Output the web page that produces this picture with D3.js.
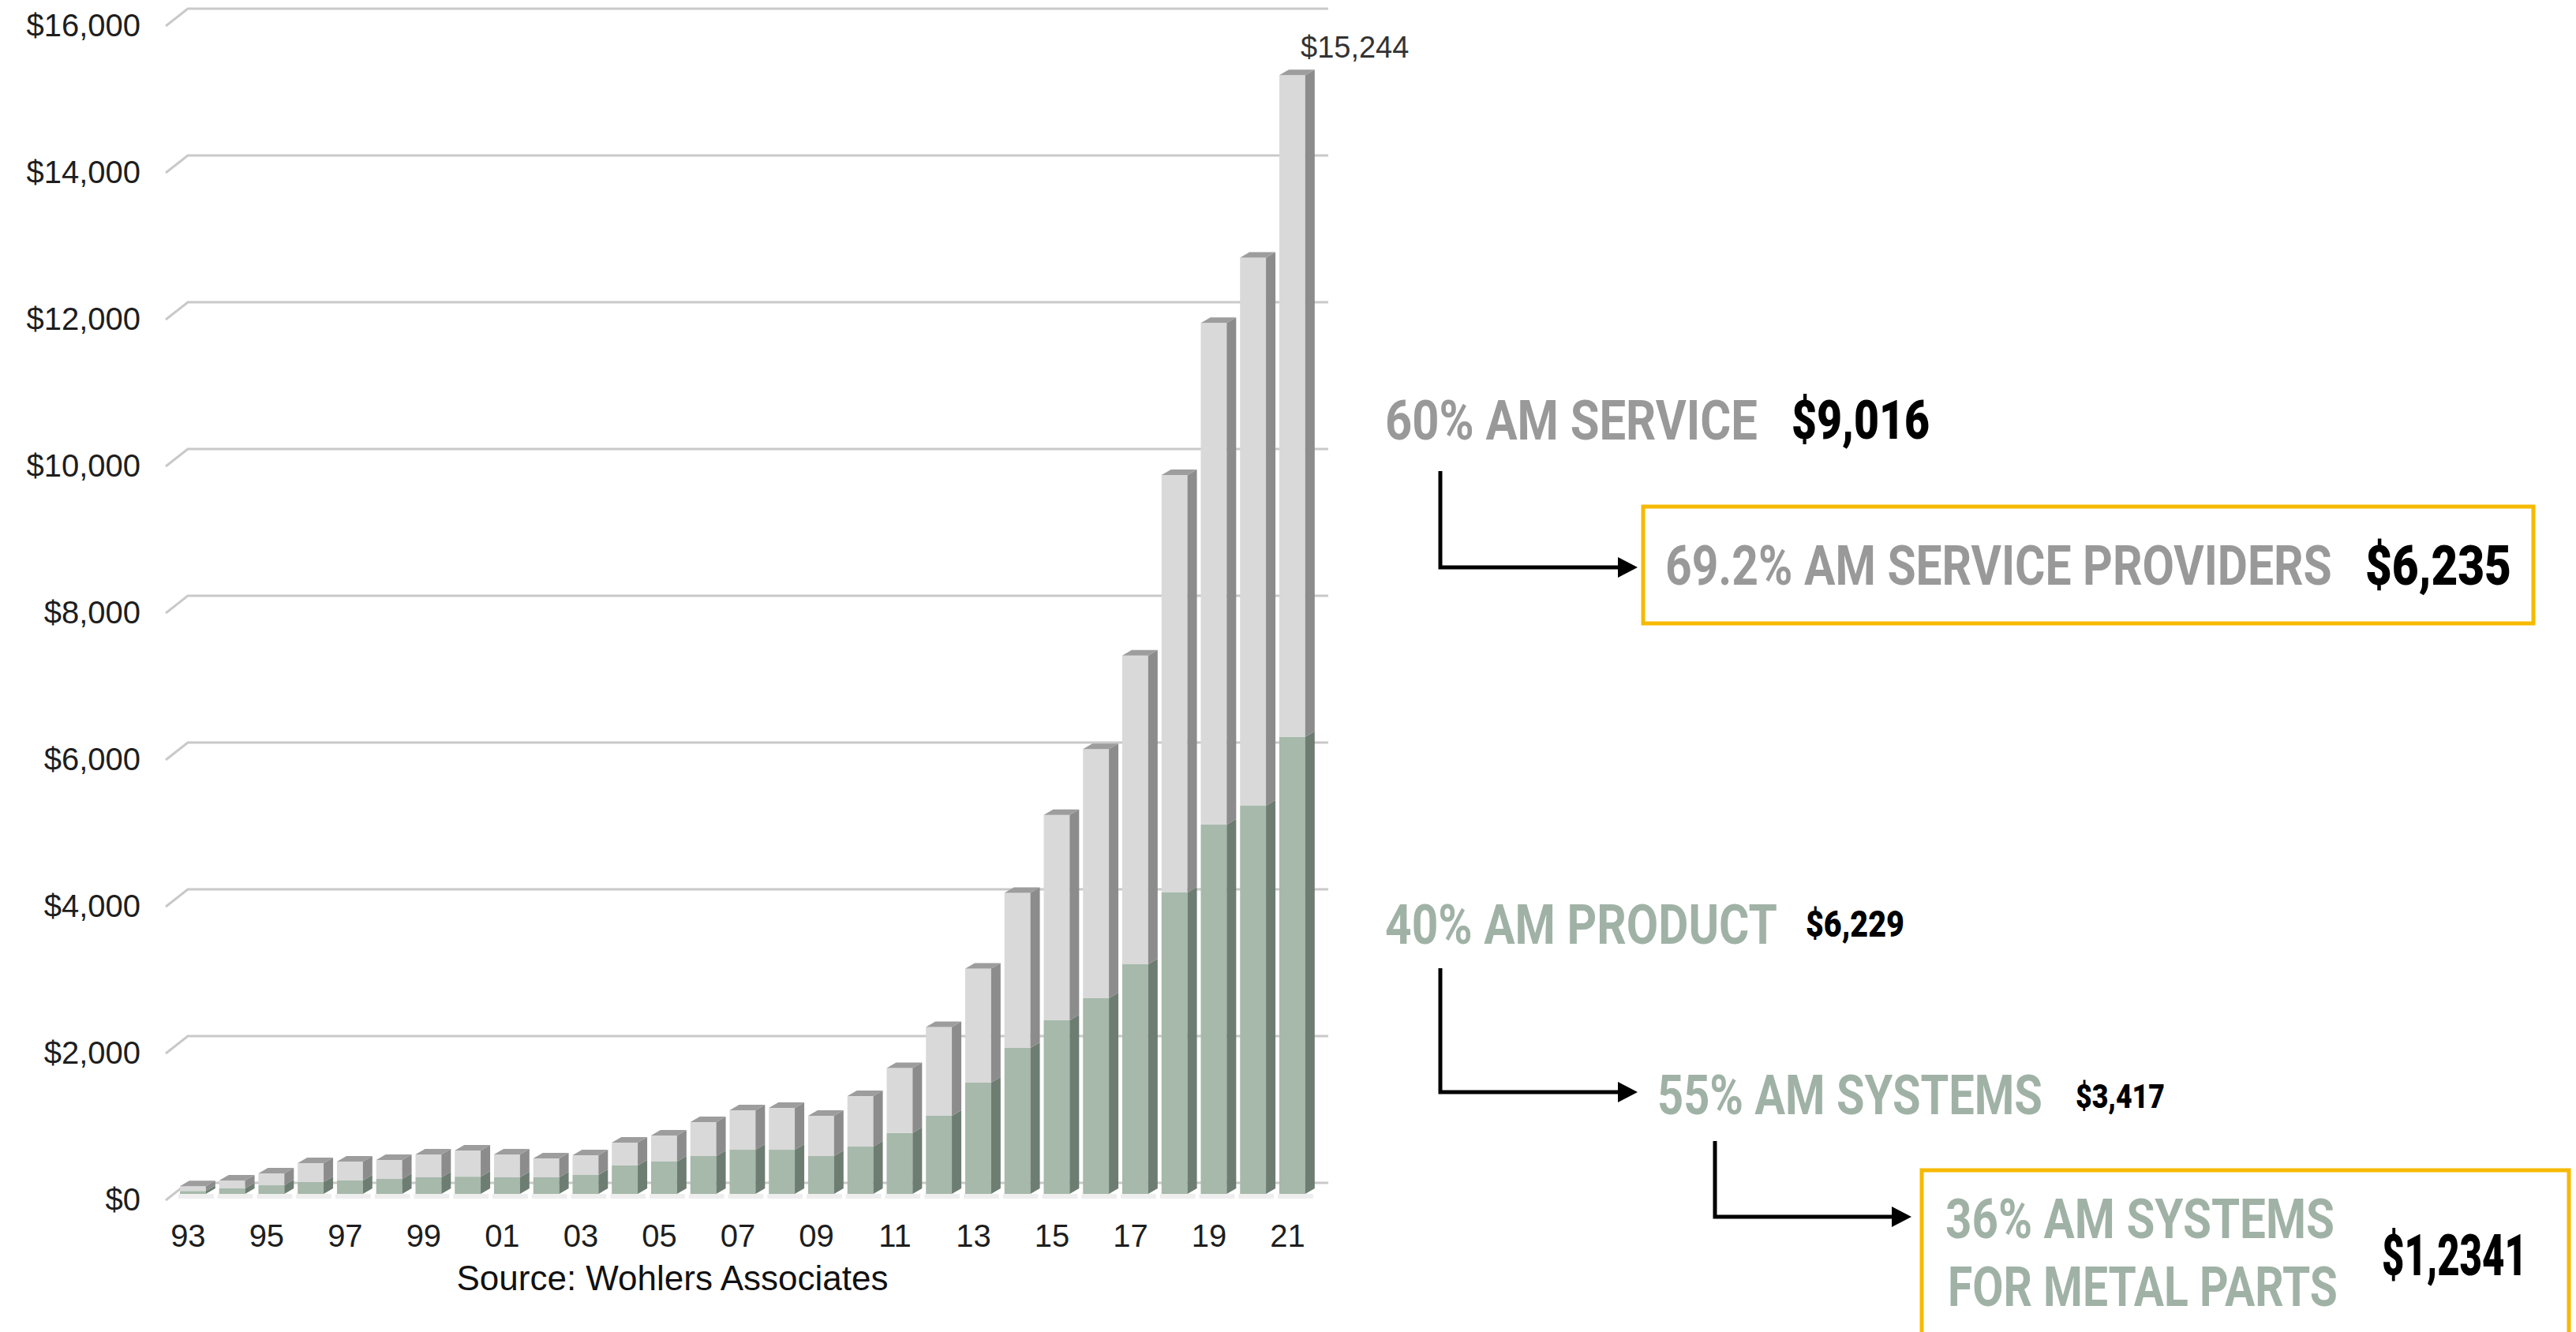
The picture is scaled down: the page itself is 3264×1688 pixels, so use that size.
<!DOCTYPE html>
<html>
<head>
<meta charset="utf-8">
<script src="https://cdn.jsdelivr.net/npm/d3@7"></script>
<style>
  html, body { margin: 0; padding: 0; background: #ffffff; }
  svg { display: block; }
</style>
</head>
<body>
<svg id="chart" width="3264" height="1688"></svg>
<script>
// Additive manufacturing revenue, $ millions, by year (Wohlers Associates)
const years = ["1993","1994","1995","1996","1997","1998","1999","2000","2001","2002",
               "2003","2004","2005","2006","2007","2008","2009","2010","2011","2012",
               "2013","2014","2015","2016","2017","2018","2019","2020","2021"];
// AM products (lower, green segment)
const productSales = [40, 75, 118, 161, 183, 204, 226, 235, 226, 226,
                      258, 387, 441, 516, 602, 602, 516, 645, 830, 1065,
                      1516, 1989, 2366, 2667, 3129, 4108, 5032, 5290, 6229];
// AM services (upper, grey segment)
const serviceSales = [65, 108, 162, 258, 258, 258, 312, 356, 312, 258,
                      269, 312, 355, 462, 538, 570, 549, 688, 884, 1210,
                      1554, 2114, 2799, 3396, 4207, 5687, 6835, 7468, 9015];
const yTicks = [0, 2000, 4000, 6000, 8000, 10000, 12000, 14000, 16000];
const xTickYears = ["1993","1995","1997","1999","2001","2003","2005","2007","2009",
                    "2011","2013","2015","2017","2019","2021"];
const xTickLabels = ["93","95","97","99","01","03","05","07","09","11","13","15","17","19","21"];
const sourceNote = "Source: Wohlers Associates";

// Breakdown callouts
const serviceHead = { label: "60% AM SERVICE", value: "$9,016" };
const serviceSub = { label: "69.2% AM SERVICE PROVIDERS", value: "$6,235" };
const productHead = { label: "40% AM PRODUCT", value: "$6,229" };
const productSub = { label: "55% AM SYSTEMS", value: "$3,417" };
const metalSub = { lines: ["36% AM SYSTEMS", "FOR METAL PARTS"], value: "$1,2341" };

const svg = d3.select("#chart");
const fmt = d3.format("$,");

// ---- scales ----
const y = d3.scaleLinear().domain([0, 16000]).range([1499, 11]);
const x = d3.scaleBand().domain(years).range([219.5, 1662.3])
  .paddingInner(0.34).paddingOuter(0.17);

// pseudo-3D geometry: back wall vs. bar front plane
const FRONT_DY = 14;       // bar fronts sit lower than the back wall
const DX = 12, DY = 7;     // bar depth
const WALL_DX = 28, WALL_DY = 22; // floor depth at left edge
const gridLeft = 238, gridRight = 1683;

// ---- gridlines on the back wall ----
const grid = svg.append("g");
yTicks.forEach(v => {
  const gy = y(v);
  grid.append("path")
    .attr("d", `M${gridLeft - WALL_DX},${gy + WALL_DY} L${gridLeft},${gy} L${gridRight},${gy}`)
    .attr("fill", "none")
    .attr("stroke", "#c9c9c9")
    .attr("stroke-width", 3);
});

// y-axis labels
svg.append("g").selectAll("text").data(yTicks).join("text")
  .attr("x", 178)
  .attr("y", d => y(d) + 35)
  .attr("text-anchor", "end")
  .attr("font-family", "'Liberation Sans', Arial, Helvetica, sans-serif")
  .attr("font-size", 40)
  .attr("fill", "#1e1e1e")
  .text(d => fmt(d));

// ---- stacked 3D columns ----
const rows = years.map((yr, i) => ({
  year: yr,
  product: productSales[i],
  service: serviceSales[i],
  total: productSales[i] + serviceSales[i]
}));

const yF = v => y(v) + FRONT_DY;
const bw = x.bandwidth();

const bars = svg.append("g").selectAll("g").data(rows).join("g");

// segment helper: front face + side face for a value range
function segment(g, x0, v0, v1, front, side) {
  const yb = yF(v0), yt = yF(v1);
  g.append("rect")
    .attr("x", x0).attr("y", yt)
    .attr("width", bw).attr("height", Math.max(0, yb - yt))
    .attr("fill", front);
  g.append("path")
    .attr("d", `M${x0 + bw},${yb} L${x0 + bw},${yt} L${x0 + bw + DX},${yt - DY} L${x0 + bw + DX},${yb - DY} Z`)
    .attr("fill", side);
}

bars.each(function (d) {
  const g = d3.select(this);
  const x0 = x(d.year);
  // soft floor shadow
  g.append("rect")
    .attr("x", x0 - 2).attr("y", yF(0))
    .attr("width", bw + DX).attr("height", 6)
    .attr("fill", "#eeeeee");
  segment(g, x0, 0, d.product, "#a6b9ab", "#6d7d72");
  segment(g, x0, d.product, d.total, "#d9d9d9", "#8c8c8c");
  const yt = yF(d.total);
  g.append("path")
    .attr("d", `M${x0},${yt} L${x0 + DX},${yt - DY} L${x0 + bw + DX},${yt - DY} L${x0 + bw},${yt} Z`)
    .attr("fill", "#9d9d9d");
});

// value label on the latest column
const last = rows[rows.length - 1];
svg.append("text")
  .attr("x", x(last.year) + 27)
  .attr("y", yF(last.total) - 22)
  .attr("font-family", "'Liberation Sans', Arial, Helvetica, sans-serif")
  .attr("font-size", 38)
  .attr("fill", "#333333")
  .text(fmt(last.total));

// x-axis labels
svg.append("g").selectAll("text").data(xTickYears).join("text")
  .attr("x", d => x(d) + bw / 2 - 6)
  .attr("y", 1580)
  .attr("text-anchor", "middle")
  .attr("font-family", "'Liberation Sans', Arial, Helvetica, sans-serif")
  .attr("font-size", 40)
  .attr("fill", "#1e1e1e")
  .text((d, i) => xTickLabels[i]);

svg.append("text")
  .attr("x", 852).attr("y", 1635)
  .attr("text-anchor", "middle")
  .attr("font-family", "'Liberation Sans', Arial, Helvetica, sans-serif")
  .attr("font-size", 44)
  .attr("fill", "#111111")
  .text(sourceNote);

// ---- breakdown callouts ----
const GREY = "#999999", SAGE = "#a0b2a6", GOLD = "#f6b900";
const callFont = "Roboto, 'Noto Sans', sans-serif";

// condensed headline text: squeeze horizontally to the wanted width
function callText(txt, x0, width, base, size, color, weight) {
  const t = svg.append("text")
    .attr("font-family", callFont)
    .attr("font-size", size)
    .attr("font-weight", weight)
    .attr("fill", color)
    .text(txt);
  const natural = t.node().getComputedTextLength() || width;
  t.attr("transform", `translate(${x0},${base}) scale(${width / natural},1)`);
}

function elbow(xv, yTop, yH, xTip) {
  svg.append("path")
    .attr("d", `M${xv},${yTop} L${xv},${yH} L${xTip - 22},${yH}`)
    .attr("fill", "none")
    .attr("stroke", "#000")
    .attr("stroke-width", 5)
    .attr("stroke-linejoin", "miter");
  svg.append("path")
    .attr("d", `M${xTip - 25},${yH - 13} L${xTip},${yH} L${xTip - 25},${yH + 13} Z`)
    .attr("fill", "#000");
}

function box(x0, y0, x1, y1) {
  svg.append("rect")
    .attr("x", x0).attr("y", y0)
    .attr("width", x1 - x0).attr("height", y1 - y0)
    .attr("fill", "none")
    .attr("stroke", GOLD)
    .attr("stroke-width", 5);
}

// services branch
callText(serviceHead.label, 1755, 472, 557, 70, GREY, 700);
callText(serviceHead.value, 2270, 175, 556, 68, "#000", 900);
elbow(1825, 597, 719, 2075);
box(2082, 642, 3210, 790);
callText(serviceSub.label, 2110, 845, 741, 70, GREY, 700);
callText(serviceSub.value, 2997, 185, 741, 70, "#000", 900);

// products branch
callText(productHead.label, 1755, 497, 1196, 70, SAGE, 700);
callText(productHead.value, 2288, 125, 1187, 46, "#000", 900);
elbow(1825, 1227, 1384, 2075);
callText(productSub.label, 2100, 488, 1412, 70, SAGE, 700);
callText(productSub.value, 2630, 113, 1404, 42, "#000", 900);
elbow(2173, 1446, 1542, 2422);
box(2435, 1483, 3255, 1720);
callText(metalSub.lines[0], 2465, 493, 1569, 70, SAGE, 700);
callText(metalSub.lines[1], 2468, 494, 1655, 70, SAGE, 700);
callText(metalSub.value, 3018, 184, 1616, 72, "#000", 900);
</script>
</body>
</html>
